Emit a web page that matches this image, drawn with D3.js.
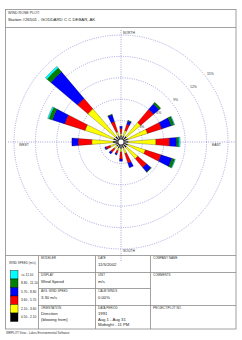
<!DOCTYPE html>
<html>
<head>
<meta charset="utf-8">
<script src="https://cdn.jsdelivr.net/npm/d3@7"></script>
<style>
  body { margin: 0; background: #fff; }
  text { font-family: "Liberation Sans", Arial, sans-serif; }
</style>
</head>
<body>
<script>
// wind directions, clockwise from north
const directions = ['N','NNE','NE','ENE','E','ESE','SE','SSE','S','SSW','SW','WSW','W','WNW','NW','NNW']
// frequency (%) per speed class, one value per direction
const class1 = [0.9,0.9,1.0,1.0,1.0,1.0,1.0,0.9,0.9,0.9,0.8,0.8,1.1,1.1,1.0,0.9]
const class2 = [0.3,0.8,2.6,2.9,3.9,2.6,2.1,0.8,0.5,0.4,0.5,0.8,3.0,4.2,5.1,0.6]
const class3 = [0.7,0.9,2.4,2.1,1.9,2.3,1.6,1.4,1.0,0.4,0.6,0.6,1.9,3.0,1.9,1.5]
const class4 = [0.3,0.5,1.0,1.4,1.0,1.6,0.8,0.7,0.3,0.2,0.3,0.2,0.9,1.8,4.9,1.0]
const class5 = [0.0,0.1,0.3,0.4,0.3,0.4,0.1,0.0,0.0,0.0,0.0,0.0,0.0,0.5,0.7,0.1]
const class6 = [0.0,0.0,0.0,0.1,0.2,0.1,0.0,0.0,0.0,0.0,0.0,0.0,0.0,0.2,0.3,0.0]
const speedLabels = ['0.50 - 2.10','2.10 - 3.60','3.60 - 5.70','5.70 - 8.80','8.80 - 11.10','>= 11.10']
const classColors = ['#000000','#ffff00','#ff0000','#0000ff','#008000','#00ffff']
const ringTicks = [3,6,9,12,15]
const ringLabels = ['3%','6%','9%','12%','15%']

const W = 242, H = 340
const cx = 121, cy = 142
const keys = ['c1','c2','c3','c4','c5','c6']
const classes = [class1,class2,class3,class4,class5,class6]

const rows = directions.map((d, i) => {
  const o = {dir: d}
  keys.forEach((k, j) => o[k] = classes[j][i])
  return o
})

const svg = d3.select('body').append('svg')
  .attr('width', W)
  .attr('height', H)

const gridCol = '#8e8ed8'
const lineCol = '#8a8a8a'

// frame and header
svg.append('rect')
  .attr('x', 5.5).attr('y', 9.5).attr('width', 230.5).attr('height', 319.5)
  .attr('fill', 'none').attr('stroke', lineCol).attr('stroke-width', 0.8)
svg.append('line')
  .attr('x1', 5.5).attr('x2', 236).attr('y1', 27.5).attr('y2', 27.5)
  .attr('stroke', lineCol).attr('stroke-width', 0.8)
svg.append('text').attr('x', 8).attr('y', 13.5)
  .attr('font-size', 3.6).attr('fill', '#333').text('WIND ROSE PLOT:')
svg.append('text').attr('x', 8).attr('y', 20.5)
  .attr('font-size', 4.3).attr('fill', '#222').text('Station #26501 - GODDARD C C DEBAR, AK')

const rScale = d3.scaleLinear().domain([0, 15]).range([0, 107])
const aScale = d3.scalePoint().domain(directions).range([0, 2 * Math.PI * 15 / 16])
const half = 4.7 * Math.PI / 180

const chart = svg.append('g').attr('transform', `translate(${cx},${cy})`)

// rings
chart.selectAll('circle.ring')
  .data(ringTicks)
  .enter()
  .append('circle')
  .attr('class', 'ring')
  .attr('r', d => rScale(d))
  .attr('fill', 'none')
  .attr('stroke', gridCol)
  .attr('stroke-width', 0.8)
  .attr('stroke-dasharray', '1,1.3')

// axes
const ext = rScale(15) + 6
chart.append('line').attr('x1', 0).attr('x2', 0).attr('y1', -ext + 1).attr('y2', ext + 6)
  .attr('stroke', gridCol).attr('stroke-width', 0.8).attr('stroke-dasharray', '1,1.3')
chart.append('line').attr('x1', -ext).attr('x2', ext + 2).attr('y1', 0).attr('y2', 0)
  .attr('stroke', gridCol).attr('stroke-width', 0.8).attr('stroke-dasharray', '1,1.3')

// ring labels
const la = 52 * Math.PI / 180
chart.selectAll('text.ringlab')
  .data(ringTicks)
  .enter()
  .append('text')
  .attr('class', 'ringlab')
  .attr('x', d => (rScale(d) + 2) * Math.sin(la))
  .attr('y', d => -(rScale(d) + 2) * Math.cos(la))
  .attr('font-size', 3.4)
  .attr('fill', '#333')
  .text((d, i) => ringLabels[i])

// compass labels
const compass = [
  {t: 'NORTH', x: 2, y: -rScale(15) - 1, a: 'start'},
  {t: 'SOUTH', x: 2, y: rScale(15) + 3, a: 'start'},
  {t: 'WEST', x: -rScale(15) + 5, y: 4, a: 'start'},
  {t: 'EAST', x: rScale(15) - 16, y: 4, a: 'start'}
]
chart.selectAll('text.compass')
  .data(compass)
  .enter()
  .append('text')
  .attr('class', 'compass')
  .attr('x', d => d.x).attr('y', d => d.y)
  .attr('text-anchor', d => d.a)
  .attr('font-size', 3.4)
  .attr('fill', '#333')
  .text(d => d.t)

// petals
const stacked = d3.stack().keys(keys)(rows)
const arc = d3.arc()
  .innerRadius(d => rScale(d[0]))
  .outerRadius(d => rScale(d[1]))
  .startAngle(d => aScale(d.data.dir) - half)
  .endAngle(d => aScale(d.data.dir) + half)

chart.selectAll('g.layer')
  .data(stacked)
  .enter()
  .append('g')
  .attr('class', 'layer')
  .attr('fill', (d, i) => classColors[i])
  .selectAll('path')
  .data(d => d.filter(s => s[1] - s[0] > 0))
  .enter()
  .append('path')
  .attr('d', arc)
  .attr('stroke', '#000')
  .attr('stroke-width', 0.25)

chart.append('circle').attr('r', 3)
  .attr('fill', '#fff').attr('stroke', '#000').attr('stroke-width', 0.6)

// bottom table
const tTop = 255.5, tBot = 329
const vx = [38.5, 95.5, 150.5]
svg.append('line').attr('x1', 5.5).attr('x2', 236).attr('y1', tTop).attr('y2', tTop)
  .attr('stroke', lineCol).attr('stroke-width', 0.8)
vx.forEach(x => {
  svg.append('line').attr('x1', x).attr('x2', x).attr('y1', tTop).attr('y2', tBot)
    .attr('stroke', lineCol).attr('stroke-width', 0.8)
})
const hLines = [
  {y: 272.5, x1: 38.5, x2: 236},
  {y: 288.5, x1: 38.5, x2: 150.5},
  {y: 305.5, x1: 38.5, x2: 236}
]
svg.selectAll('line.hl')
  .data(hLines)
  .enter()
  .append('line')
  .attr('class', 'hl')
  .attr('x1', d => d.x1).attr('x2', d => d.x2)
  .attr('y1', d => d.y).attr('y2', d => d.y)
  .attr('stroke', lineCol).attr('stroke-width', 0.8)

const heads = [
  {t: 'MODELER', x: 41, y: 259},
  {t: 'DISPLAY', x: 41, y: 276},
  {t: 'AVG. WIND SPEED', x: 41, y: 292},
  {t: 'ORIENTATION', x: 41, y: 309},
  {t: 'DATE', x: 98, y: 259},
  {t: 'UNIT', x: 98, y: 276},
  {t: 'CALM WINDS', x: 98, y: 292},
  {t: 'DATA PERIOD', x: 98, y: 309},
  {t: 'COMPANY NAME', x: 153, y: 259},
  {t: 'COMMENTS', x: 153, y: 276},
  {t: 'PROJECT/PLOT NO.', x: 153, y: 309},
  {t: 'WIND SPEED (m/s)', x: 9, y: 264}
]
svg.selectAll('text.head')
  .data(heads)
  .enter()
  .append('text')
  .attr('class', 'head')
  .attr('x', d => d.x).attr('y', d => d.y)
  .attr('font-size', 3)
  .attr('fill', '#333')
  .text(d => d.t)

const vals = [
  {t: 'Wind Speed', x: 41, y: 283},
  {t: '3.30 m/s', x: 41, y: 299},
  {t: 'Direction', x: 41, y: 315},
  {t: '(blowing from)', x: 41, y: 320.5},
  {t: '11/5/2002', x: 98, y: 265.5},
  {t: 'm/s', x: 98, y: 283},
  {t: '0.00%', x: 98, y: 299},
  {t: '1991', x: 98, y: 315},
  {t: 'Aug 1 - Aug 31', x: 98, y: 320.5},
  {t: 'Midnight - 11 PM', x: 98, y: 326}
]
svg.selectAll('text.val')
  .data(vals)
  .enter()
  .append('text')
  .attr('class', 'val')
  .attr('x', d => d.x).attr('y', d => d.y)
  .attr('font-size', 4.2)
  .attr('fill', '#222')
  .text(d => d.t)

// legend, highest class on top
const legend = svg.append('g')
const legendRows = d3.range(speedLabels.length).reverse()
const ly = d3.scaleBand().domain(legendRows).range([270.5, 321.5])
legend.selectAll('rect')
  .data(legendRows)
  .enter()
  .append('rect')
  .attr('x', 10.5).attr('y', d => ly(d))
  .attr('width', 7.5).attr('height', ly.bandwidth())
  .attr('fill', d => classColors[d])
  .attr('stroke', '#000').attr('stroke-width', 0.4)
legend.selectAll('text')
  .data(legendRows)
  .enter()
  .append('text')
  .attr('x', 21).attr('y', d => ly(d) + ly.bandwidth() / 2 + 1.2)
  .attr('font-size', 3.2)
  .attr('fill', '#222')
  .text(d => speedLabels[d])

svg.append('text').attr('x', 6).attr('y', 334)
  .attr('font-size', 3).attr('fill', '#333')
  .text('WRPLOT View - Lakes Environmental Software')
</script>
</body>
</html>
